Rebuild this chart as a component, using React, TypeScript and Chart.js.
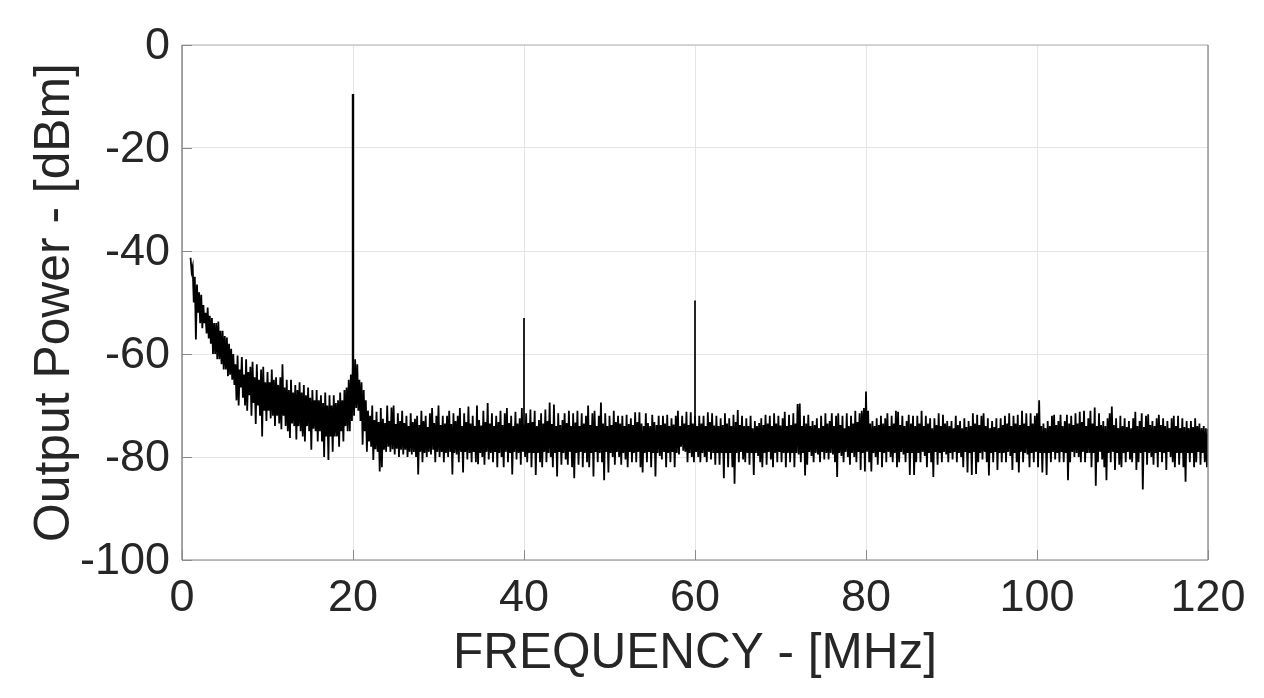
import React, { useEffect, useRef } from "react";
import { Chart, registerables } from "chart.js";

Chart.register(...registerables);

const xTickValues = [0, 20, 40, 60, 80, 100, 120];
const yTickValues = [0, -20, -40, -60, -80, -100];
const xAxisTitle = "FREQUENCY - [MHz]";
const yAxisTitle = "Output Power - [dBm]";

const traceStartMHz = 1;
const traceStepMHz = 0.25;

// Upper excursion of the noisy trace, one value per 0.25 MHz
const traceHigh = [
  -41.3,-43,-45,-46.5,-48,-48.5,-50.5,-52,-51,-52.6,-53,-54,-54,-53.7,-55.5,-55.5,-56.5,-56.8,-58,-59,
  -60,-62,-60.3,-63,-60.6,-64,-61,-63.5,-62.5,-61.5,-64.5,-62,-65,-63,-62.5,-65.5,-63.5,-65.5,-63,-65,
  -64.5,-66,-64.5,-62,-66.5,-65,-67,-65,-67.5,-66,-67,-65.5,-67.5,-66,-68,-66.5,-68.5,-67,-69,-67,
  -69,-68,-69.5,-67.5,-70,-68,-70,-68,-69.5,-69,-67.5,-69,-67,-66.5,-65,-64,-61,-61,-62,-65,
  -65.5,-67,-69,-71,-72,-70,-72.8,-71.2,-73.2,-70.5,-72.6,-73.4,-70,-73,-70.4,-70,-73.6,-71.5,-73,-71,
  -73.4,-72,-74,-71.5,-73.2,-72.6,-72,-73.8,-71,-73,-72,-74.2,-71.5,-70.5,-73.4,-72,-70,-73.8,-72,-73.5,
  -72,-71,-73.6,-71.5,-73,-72,-70.5,-74,-71.5,-73.2,-70.2,-73.5,-72,-74,-70,-72.8,-73.9,-71,-73.2,-69.5,
  -73.5,-71.5,-74,-72,-73.2,-71,-73.8,-71.5,-70.5,-73.4,-72,-74,-71.2,-73.5,-72.5,-70.5,-73.7,-71.5,-73.4,-70.8,
  -73.2,-71,-74,-72.8,-71.5,-73.5,-70.8,-73,-69.4,-73.6,-69.8,-74,-71.5,-73.8,-72.8,-71.5,-73.4,-71,-74,-71.5,
  -73.3,-71,-74,-71.5,-73.5,-72,-70,-73.8,-71.5,-71,-74,-72,-69.4,-73.5,-71.5,-74,-72,-73.8,-71,-73.2,
  -72,-73.5,-72,-74,-71.8,-73.6,-72.5,-73.8,-71.3,-73.2,-71.3,-73.5,-74,-71.5,-73.4,-74,-71.8,-73.2,-73.8,-72,
  -73.8,-72,-73.5,-71.8,-74,-72.5,-73.7,-72,-71,-74,-72,-73.5,-71.2,-73.8,-71.3,-73.5,-72,-74,-72,-73.5,
  -72,-74,-71.3,-73.2,-71.5,-73.9,-72,-74,-72.5,-73.8,-71.5,-73.5,-72.5,-74,-71.8,-73.2,-70.9,-73.8,-72,-74,
  -72.5,-74,-72,-74.4,-73,-74,-73.4,-72.5,-73.8,-71.8,-73.5,-72,-74,-71.5,-73.5,-72,-73.9,-72.5,-71.2,-74,
  -71.8,-73.8,-71.5,-73.5,-69.7,-69.6,-74,-72,-73.5,-71.8,-74,-73,-73.8,-72.5,-74.4,-72,-74,-71.5,-73.5,-73,
  -71.5,-74,-72,-71.5,-73.8,-72,-74.4,-71.5,-74,-72,-73.5,-71,-73.2,-71.5,-71,-70.5,-67.3,-71,-73.5,-73,
  -74,-72.5,-73.8,-72,-73.5,-72.5,-71.5,-74,-72,-73.5,-71,-71.2,-73.8,-72,-74,-73,-71.8,-73.5,-72,-74,
  -72,-73.5,-71,-74,-72,-73.5,-72.5,-74.4,-72.5,-73.8,-71.5,-74,-71.8,-73.5,-73,-74,-73,-74.4,-72,-73.8,
  -73,-74.4,-72.5,-74.2,-73,-74,-71.5,-73.5,-71.8,-73.8,-72,-71.5,-74,-72.5,-74.4,-73,-74.2,-72.5,-74.4,-72.5,
  -73.8,-72,-73.5,-71.5,-74,-72,-73.5,-71.8,-73.8,-71,-73.5,-71.5,-74,-71.5,-73.5,-72,-71.5,-69,-74,-73.5,
  -74.4,-73,-74,-72,-71.8,-73.8,-73,-71.8,-74,-73,-71.8,-73.5,-72,-73.8,-71.5,-73.5,-71.2,-73.2,-71,-74,
  -72.5,-71,-73.5,-70.4,-74,-71.5,-73.8,-73,-74,-72.5,-71.5,-70.2,-73.8,-72.5,-74.4,-72,-74,-72.5,-74.2,-73,
  -74.4,-72.5,-71.2,-74,-73,-71.5,-74.2,-72,-71.7,-73.8,-73,-74,-72.5,-71.8,-73.8,-72.5,-74,-73,-74.4,-72.5,
  -72,-74,-72,-74.4,-72.5,-74.2,-73,-74.4,-73,-74.2,-72.5,-74,-73.5,-74.4,-74,-74.4,-74.5,
];

// Lower excursion of the noisy trace, one value per 0.25 MHz
const traceLow = [
  -44,-50,-57.2,-52,-54,-55,-54,-56,-57,-58,-60,-60,-61,-61,-62,-63,-63,-64.3,-64,-65,
  -66,-69,-70,-66.5,-68.5,-70,-71,-68,-72,-69.5,-73.6,-70,-72,-76,-71,-73,-71,-72.5,-72,-74,
  -72,-73.5,-74.6,-72,-74,-75,-76.3,-73.5,-74,-76.6,-74,-75,-76,-77,-74,-75,-78.6,-74.5,-75,-77,
  -75,-77,-80,-76,-80.6,-76,-79,-76,-76,-78,-75,-77,-74,-75,-75,-73,-72,-70.5,-71,-73,
  -77.6,-75,-79,-77,-78,-80.6,-78.5,-79,-82.8,-82,-78.6,-79,-78,-79,-78.5,-79.5,-78.4,-80,-78.6,-79.5,
  -78.6,-80,-79,-79.5,-79,-80,-83.4,-79,-81,-79.2,-80,-79,-79.5,-78.6,-81,-79,-80,-79,-81,-79.2,
  -80,-79,-83.4,-79.2,-79.5,-81,-79,-83,-79,-80.5,-79.2,-81,-79,-81,-81.4,-79.2,-80,-81.5,-79,-80.5,
  -79.2,-81,-79,-82,-79.2,-80,-82,-79,-81,-79.2,-83.4,-79,-80.5,-79.2,-81.5,-79,-80,-81,-79.2,-82,
  -79.2,-83.5,-79.2,-81,-82,-79,-81,-79.2,-80,-82,-79.2,-83.8,-79,-81.5,-79.2,-80.5,-81.5,-79,-82,-84.1,
  -79.2,-81.5,-79,-82,-79.2,-81,-82,-79.2,-83.8,-79,-81,-79.2,-81,-84.5,-79,-83,-79.2,-80,-81.5,-79,
  -80,-81.5,-79.2,-80.5,-82,-79,-81,-79.2,-81,-79,-82,-83,-79.2,-81,-79,-82,-79.2,-83.8,-79.2,-79.8,
  -80.5,-79,-82,-79.2,-81,-79,-82,-79.2,-79.5,-78,-78.8,-79,-81,-79.2,-80,-81,-79,-80,-81,-79.2,
  -80,-81,-79,-80.5,-79.2,-81.5,-79.2,-81.5,-79.2,-84.1,-79.2,-82,-79.2,-82,-85.2,-79.2,-81,-79,-80.5,-81,
  -79.2,-81.5,-79.2,-83.5,-79.2,-79.8,-81,-82,-79.2,-81.5,-79,-80.5,-82,-79.2,-81,-79,-81,-79.2,-82,-79.2,
  -81,-79.2,-82,-79.2,-79.5,-81,-79.2,-83.6,-81.5,-79,-79.8,-81,-79.2,-79.5,-81,-79,-80.5,-79.2,-80.5,-79.2,
  -79.5,-81,-83.9,-79.2,-79.8,-81,-79,-80,-81.5,-79.2,-80,-81,-79,-82.5,-79.2,-82.8,-79,-81,-82.8,-79.2,
  -80,-81.5,-79,-82,-79.2,-81,-79,-80,-81,-79.2,-82,-81,-79,-79.5,-81,-79.2,-83.5,-79.2,-83.5,-81,
  -79.2,-81,-79,-79.8,-82,-79.2,-81,-83.9,-79,-81.5,-79.2,-81,-79,-79.5,-81,-79.2,-80.5,-79,-81,-79.2,
  -80,-82,-79,-83,-79.2,-83.5,-79,-83.3,-81,-79.2,-80.5,-79,-81,-83.6,-79.2,-81,-79,-82.5,-79.2,-81,
  -79.2,-81,-79,-79.8,-82.5,-79.2,-81,-83,-79,-81,-79.2,-79.5,-82,-79.2,-81,-79,-82,-79.2,-83,-79.2,
  -83.5,-79.2,-81,-79,-80.5,-79.2,-81,-79,-81,-79.2,-84.5,-81,-79,-80,-79.2,-80,-81,-79,-81,-79.2,
  -79.2,-82,-79.2,-85.6,-81,-79,-80.5,-82,-84.5,-79.2,-81,-79,-82.5,-79.2,-81.5,-82,-79.2,-81,-79,-80.5,
  -81,-79.2,-82.5,-81,-79.2,-86.3,-79,-81.5,-79.2,-80,-81.5,-79.2,-82,-79,-81,-79.2,-82.5,-79,-80,-81,
  -82,-79.2,-81.5,-79.2,-82,-84.8,-79.2,-81,-79.2,-82,-81,-79,-81.5,-79.2,-81,-82,-79.5,
];

// Harmonic spikes
const spikeFreqs = [20, 40, 60];
const spikeTops = [-9.5, -53, -49.6];
const spikeBases = [-70, -76, -76];

const TEXT = "#262626";
const FONT = "'Liberation Sans', Arial, sans-serif";

const boxPlugin = {
  id: "matlabBox",
  afterDatasetsDraw(chart: any) {
    const { ctx, chartArea: a, scales } = chart;
    const side = (color: string, x1: number, y1: number, x2: number, y2: number) => {
      ctx.strokeStyle = color;
      ctx.beginPath();
      ctx.moveTo(x1, y1);
      ctx.lineTo(x2, y2);
      ctx.stroke();
    };
    ctx.save();
    ctx.lineWidth = 1.3;
    side("#c8c8c8", a.left, a.top, a.right, a.top);
    side("#a8a8a8", a.left, a.bottom, a.right, a.bottom);
    side("#888888", a.right, a.top, a.right, a.bottom);
    side("#777777", a.left, a.top, a.left, a.bottom);
    ctx.strokeStyle = "#8a8a8a";
    ctx.lineWidth = 1;
    ctx.beginPath();
    scales.y.ticks.forEach((t: any) => {
      const py = Math.round(scales.y.getPixelForValue(t.value)) + 0.5;
      ctx.moveTo(a.left, py);
      ctx.lineTo(a.left + 10, py);
    });
    scales.x.ticks.forEach((t: any) => {
      const px = Math.round(scales.x.getPixelForValue(t.value)) + 0.5;
      ctx.moveTo(px, a.bottom);
      ctx.lineTo(px, a.bottom - 10);
    });
    ctx.stroke();
    ctx.restore();
  },
};

export default function App() {
  const ref = useRef<HTMLCanvasElement>(null);

  useEffect(() => {
    document.body.style.margin = "0";
    document.body.style.background = "#fff";
    const trace: { x: number; y: number }[] = [];
    traceHigh.forEach((h, i) => {
      const f = traceStartMHz + i * traceStepMHz;
      trace.push({ x: f, y: h });
      trace.push({ x: f + traceStepMHz / 2, y: traceLow[i] });
    });
    trace.length = trace.length - 1;

    const spikeSets = spikeFreqs.map((f, i) => ({
      label: `${f} MHz`,
      data: [
        { x: f, y: spikeBases[i] },
        { x: f, y: spikeTops[i] },
      ],
      borderColor: "#000",
      borderWidth: i === 0 ? 2.4 : 1.7,
      pointRadius: 0,
    }));

    const chart = new Chart(ref.current as HTMLCanvasElement, {
      type: "line",
      data: {
        datasets: [
          {
            label: "Output Power",
            data: trace,
            borderColor: "#000",
            borderWidth: 1.8,
            pointRadius: 0,
            tension: 0,
          },
          ...spikeSets,
        ],
      } as any,
      options: {
        animation: false,
        responsive: false,
        devicePixelRatio: 1,
        layout: { padding: { top: 45, right: 56, bottom: 0, left: 0 } },
        plugins: { legend: { display: false }, tooltip: { enabled: false } },
        scales: {
          x: {
            type: "linear",
            min: 0,
            max: 120,
            afterBuildTicks: (s: any) => {
              s.ticks = xTickValues.map((value) => ({ value }));
            },
            afterFit: (s: any) => {
              s.height = 138;
            },
            grid: { color: "#e4e4e4", lineWidth: 1, drawTicks: false },
            border: { display: false },
            ticks: {
              color: TEXT,
              font: { family: FONT, size: 45 },
              padding: 12,
              maxRotation: 0,
              autoSkip: false,
            },
            title: {
              display: true,
              text: xAxisTitle,
              color: TEXT,
              font: { family: FONT, size: 49.5 },
              padding: { top: 0, bottom: 14 },
            },
          },
          y: {
            type: "linear",
            min: -100,
            max: 0,
            afterBuildTicks: (s: any) => {
              s.ticks = yTickValues.map((value) => ({ value }));
            },
            afterFit: (s: any) => {
              s.width = 182;
            },
            grid: { color: "#e4e4e4", lineWidth: 1, drawTicks: false },
            border: { display: false },
            ticks: {
              color: TEXT,
              font: { family: FONT, size: 45 },
              padding: 12,
              labelOffset: 2,
              autoSkip: false,
            },
            title: {
              display: true,
              text: yAxisTitle,
              color: TEXT,
              font: { family: FONT, size: 49.8 },
              padding: { top: 25, bottom: 0 },
            },
          },
        },
      } as any,
      plugins: [boxPlugin],
    });
    return () => chart.destroy();
  }, []);

  return (
    <canvas
      ref={ref}
      width={1264}
      height={698}
      style={{ display: "block", width: 1264, height: 698 }}
    />
  );
}
